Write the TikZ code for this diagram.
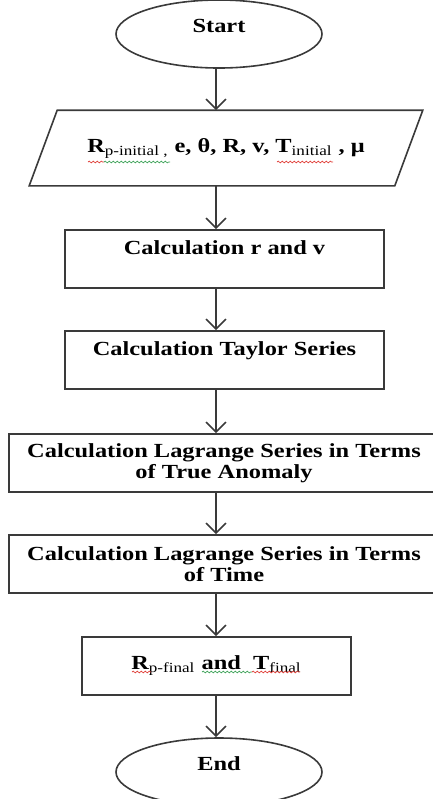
\documentclass[tikz,border=0pt]{standalone}
\usepackage{fontspec}
\setmainfont{Liberation Serif}[FakeStretch=1.22]
\usetikzlibrary{arrows.meta,shapes.geometric,decorations.pathmorphing}
\definecolor{FlowInk}{HTML}{3A3A3A}
\definecolor{FlowRed}{HTML}{E0403A}
\definecolor{FlowGreen}{HTML}{3FA35A}
\newcommand{\sub}[1]{\textsubscript{\mdseries #1}}
\tikzset{
  flow/base/.style={
    draw=FlowInk, line width=.8pt,
    font=\fontsize{10}{10.5}\selectfont\bfseries, align=center, inner sep=2pt
  },
  flow/term/.style={flow/base, ellipse, minimum width=103pt, minimum height=34pt,
    text height=7pt, text depth=9pt},
  flow/box/.style={flow/base, rectangle, minimum height=29pt},
  flow/onebox/.style={flow/box, text height=7pt, text depth=11.5pt},
  flow/io/.style={flow/base, draw=none, minimum width=182pt, minimum height=37pt},
  flow/arrow/.style={
    -{Straight Barb[length=5pt,width=10pt]}, line width=.8pt, draw=FlowInk
  },
  flow/wave/.style={line width=.35pt, decorate,
    decoration={snake, amplitude=.45pt, segment length=2pt}}
}

\begin{document}
\begin{tikzpicture}[x=.5pt,y=-.5pt]
  \useasboundingbox (0,0) rectangle (433,799);
  \coordinate (axis) at (216,0);
  \node[flow/term] (start) at (219,34) {Start};
  \node[flow/io] (in) at (226,148)
    {R\sub{p-initial ,} e, θ, R, v, T\sub{initial} , μ};
  \draw[draw=FlowInk, line width=.8pt]
    ([xshift=7pt]in.north west) -- ([xshift=7pt]in.north east)
    -- ([xshift=-7pt]in.south east) -- ([xshift=-7pt]in.south west) -- cycle;
  \node[flow/onebox, minimum width=159.5pt] (calc) at (224.5,259)
    {Calculation r and v};
  \node[flow/onebox, minimum width=159.5pt] (taylor) at (224.5,360)
    {Calculation Taylor Series};
  \node[flow/box, minimum width=215pt] (lagt) at (224,463)
    {Calculation Lagrange Series in Terms\\of True Anomaly};
  \node[flow/box, minimum width=215pt] (lagtime) at (224,564)
    {Calculation Lagrange Series in Terms\\of Time};
  \node[flow/box, minimum width=134.5pt] (out) at (216.5,666)
    {R\sub{p-final} and~~T\sub{final}};
  \node[flow/term] (stop) at (219,772) {End};
  \foreach \a/\b in {start/in,in/calc,calc/taylor,taylor/lagt,lagt/lagtime,lagtime/out,out/stop}
    \draw[flow/arrow] (\a.south -| axis) -- (\b.north -| axis);
  % spell-check underlines
  \draw[flow/wave, FlowRed] (88,162) -- (104,162);
  \draw[flow/wave, FlowGreen] (104,162) -- (170,162);
  \draw[flow/wave, FlowRed] (277,162) -- (333,162);
  \draw[flow/wave, FlowRed] (132,672) -- (151,672);
  \draw[flow/wave, FlowGreen] (202,672) -- (252,672);
  \draw[flow/wave, FlowRed] (252,672) -- (300,672);
\end{tikzpicture}
\end{document}
